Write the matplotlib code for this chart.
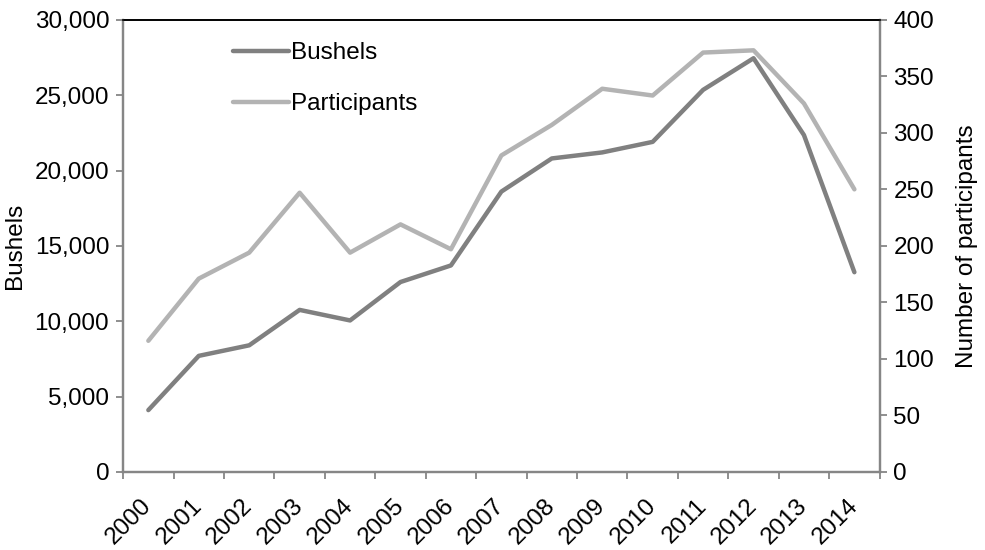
import numpy as np
import matplotlib.pyplot as plt
from matplotlib.ticker import FuncFormatter, FixedLocator

plt.rcParams['font.family'] = ['Liberation Sans', 'DejaVu Sans']

years = ["2000", "2001", "2002", "2003", "2004", "2005", "2006", "2007",
         "2008", "2009", "2010", "2011", "2012", "2013", "2014"]
bushels = [4100, 7700, 8400, 10750, 10050, 12600, 13700, 18600,
           20800, 21200, 21900, 25350, 27450, 22350, 13250]
participants = [116, 171, 194, 247, 194, 219, 197, 280,
                307, 339, 333, 371, 373, 326, 250]

axis_col = '#868686'
fs = 17.5

fig = plt.figure(figsize=(9.85, 5.5), dpi=100)
ax = fig.add_axes([0.125, 0.142, 0.768, 0.822])
ax2 = ax.twinx()

x = np.arange(len(years))
l1, = ax.plot(x, bushels, color='#808080', lw=3.2, solid_capstyle='round', label="Bushels")
l2, = ax2.plot(x, participants, color='#b3b3b3', lw=3.2, solid_capstyle='round', label="Participants")
ax.set_zorder(ax2.get_zorder() + 1)
ax.patch.set_visible(False)

ax.set_xlim(-0.5, len(years) - 0.5)
ax.set_ylim(0, 30000)
ax2.set_ylim(0, 400)
ax.set_yticks(np.arange(0, 30001, 5000))
ax2.set_yticks(np.arange(0, 401, 50))
ax.yaxis.set_major_formatter(FuncFormatter(lambda v, p: f"{int(v):,}"))

ax.set_xticks(x)
ax.set_xticklabels(years, rotation=45, ha='right', va='center', rotation_mode='anchor', fontsize=fs)
ax.tick_params(axis='x', which='major', length=0, pad=22)
ax.xaxis.set_minor_locator(FixedLocator(np.arange(-0.5, len(years), 1)))
ax.tick_params(axis='x', which='minor', length=5, color=axis_col, width=1.3)
ax.tick_params(axis='y', length=5, color=axis_col, width=1.3, labelsize=fs, pad=5)
ax2.tick_params(axis='y', length=5, color=axis_col, width=1.3, labelsize=fs, pad=5)

for a in (ax, ax2):
    for s in ('left', 'right', 'bottom'):
        a.spines[s].set_color(axis_col)
        a.spines[s].set_linewidth(1.6)
    a.spines['top'].set_color('black')
    a.spines['top'].set_linewidth(1.2)

ax.set_ylabel("Bushels", fontsize=fs, labelpad=6)
ax2.set_ylabel("Number of participants", fontsize=fs, labelpad=16)

ax.legend(handles=[l1, l2], loc='upper left', bbox_to_anchor=(0.116, 0.999),
          frameon=False, fontsize=fs, handlelength=2.3, handletextpad=0.1,
          labelspacing=1.2)

fig.savefig("out.png", dpi=100)
